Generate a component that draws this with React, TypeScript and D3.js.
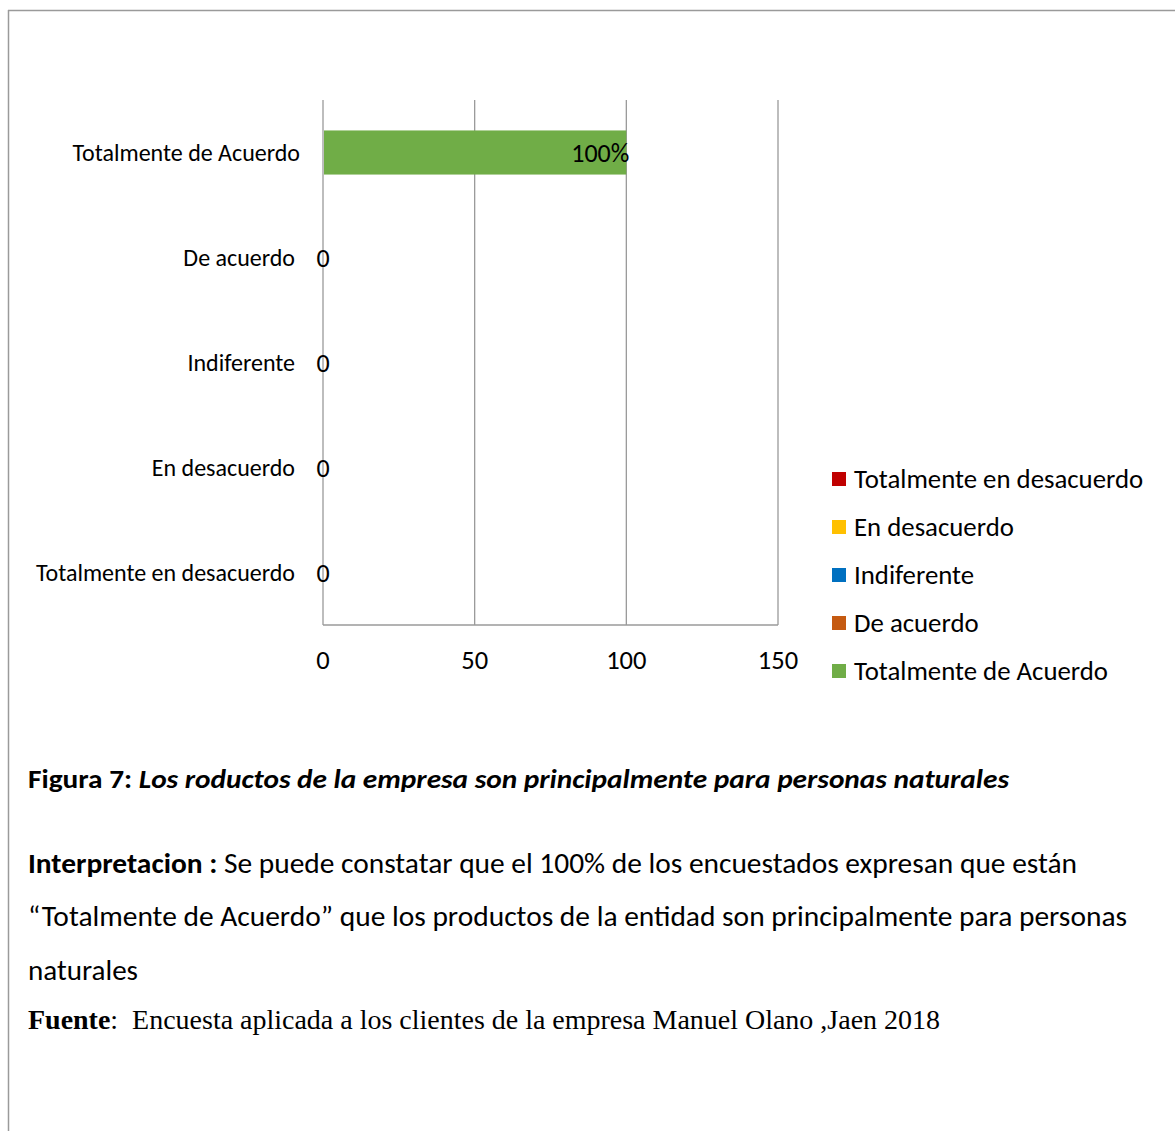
import React from "react";
import * as d3 from "d3";

// Survey answers, listed bottom-to-top as they appear in the legend
const categories = [
  "Totalmente en desacuerdo",
  "En desacuerdo",
  "Indiferente",
  "De acuerdo",
  "Totalmente de Acuerdo",
];
const values = [0, 0, 0, 0, 100];
const valueLabels = ["0", "0", "0", "0", "100%"];
const colors = ["#C00000", "#FFC000", "#0070C0", "#C55A11", "#70AD47"];
const xTicks = [0, 50, 100, 150];

const W = 1175;
const H = 1131;
const SANS = "Carlito, Calibri, 'Open Sans', 'Noto Sans', sans-serif";
const SERIF = "'Liberation Serif', 'Times New Roman', serif";

export default function App() {
  const x = d3.scaleLinear().domain([0, 150]).range([323, 778]);
  // top row is the last category
  const y = d3
    .scaleBand<string>()
    .domain([...categories].reverse())
    .range([100, 625])
    .padding(0);
  const barH = y.bandwidth() * 0.42;
  const grid = "#9a9a9a";

  return (
    <svg
      width={W}
      height={H}
      style={{ position: "absolute", left: 0, top: 0, background: "#fff" }}
      fontFamily={SANS}
    >
      {/* page frame */}
      <line x1={8} y1={10.5} x2={W} y2={10.5} stroke={grid} strokeWidth={1.5} />
      <line x1={8.5} y1={10} x2={8.5} y2={H} stroke={grid} strokeWidth={1.5} />

      {/* vertical gridlines */}
      {xTicks.map((t) => (
        <line
          key={t}
          x1={x(t)}
          x2={x(t)}
          y1={100}
          y2={625}
          stroke={grid}
          strokeWidth={1.3}
        />
      ))}
      <line x1={x(0)} x2={x(150)} y1={625} y2={625} stroke={grid} strokeWidth={1.3} />

      {/* bars */}
      {categories.map((c, i) => {
        const cy = (y(c) as number) + y.bandwidth() / 2;
        const w = x(values[i]) - x(0);
        return (
          <g key={c}>
            {w > 0 && (
              <rect
                x={x(0) + 1}
                y={cy - barH / 2}
                width={w - 1}
                height={barH}
                fill={colors[i]}
              />
            )}
            <text
              x={values[i] > 0 ? x(values[i]) + 3 : x(0)}
              y={cy}
              dy="0.35em"
              fontSize={26}
              textAnchor={values[i] > 0 ? "end" : "middle"}
              fill="#000"
            >
              {valueLabels[i]}
            </text>
            <text
              x={i === categories.length - 1 ? 300 : 295}
              y={cy}
              dy="0.35em"
              fontSize={24}
              textAnchor="end"
              fill="#000"
            >
              {c}
            </text>
          </g>
        );
      })}

      {/* x tick labels */}
      {xTicks.map((t) => (
        <text
          key={t}
          x={x(t)}
          y={660}
          dy="0.35em"
          fontSize={26.5}
          textAnchor="middle"
          fill="#000"
        >
          {t}
        </text>
      ))}

      {/* legend */}
      {categories.map((c, i) => {
        const ly = 479 + i * 48;
        return (
          <g key={c}>
            <rect x={832} y={ly - 7} width={14} height={14} fill={colors[i]} />
            <text x={854} y={ly} dy="0.35em" fontSize={26.8} fill="#000">
              {c}
            </text>
          </g>
        );
      })}

      {/* caption */}
      <text x={28} y={788} fontSize={26} fontWeight="bold" fill="#000" textLength={981} lengthAdjust="spacingAndGlyphs">
        Figura 7:{" "}
        <tspan fontStyle="italic">
          Los roductos de la empresa son principalmente para personas naturales
        </tspan>
      </text>

      <text x={28} y={873} fontSize={28} fill="#000" textLength={1049} lengthAdjust="spacingAndGlyphs">
        <tspan fontWeight="bold">Interpretacion :</tspan> Se puede constatar que el 100% de los encuestados expresan que están
      </text>
      <text x={28} y={926} fontSize={28} fill="#000" textLength={1099} lengthAdjust="spacingAndGlyphs">
        “Totalmente de Acuerdo” que los productos de la entidad son principalmente para personas
      </text>
      <text x={28} y={980} fontSize={28} fill="#000" textLength={110} lengthAdjust="spacingAndGlyphs">
        naturales
      </text>
      <text x={28} y={1029} fontSize={27.5} fontFamily={SERIF} fill="#000" textLength={912} lengthAdjust="spacingAndGlyphs">
        <tspan fontWeight="bold">Fuente</tspan>:{"\u00a0\u00a0"}Encuesta aplicada a los clientes de la empresa Manuel Olano ,Jaen 2018
      </text>
    </svg>
  );
}
